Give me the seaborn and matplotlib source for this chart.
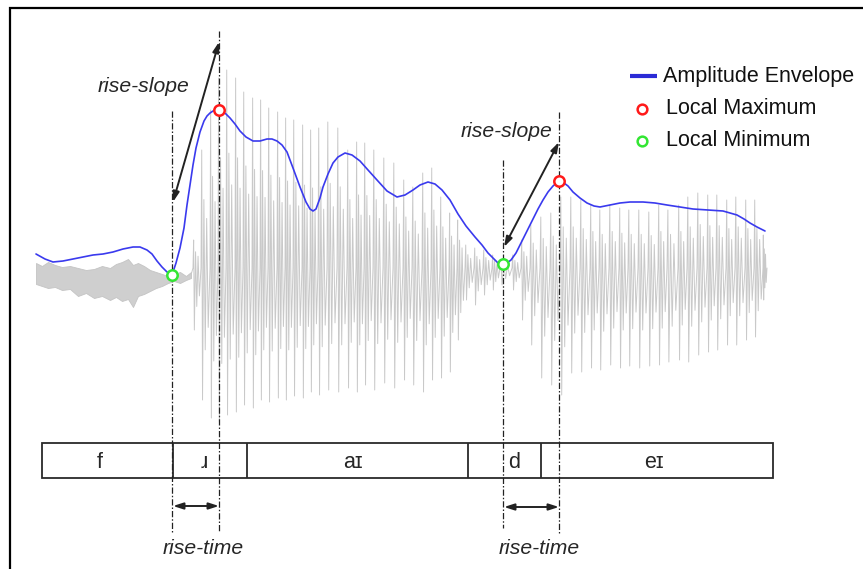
import matplotlib
matplotlib.use("Agg")
import matplotlib.pyplot as plt
import seaborn as sns
import pandas as pd
from matplotlib.patches import Rectangle

# ---------------------------------------------------------------------------
# Data (horizontal = time in px-like units, vertical = amplitude, downwards)
# ---------------------------------------------------------------------------
# fricative /f/ noise band: upper and lower edges
noise_x = [36, 42, 48, 55, 62, 70, 78, 86, 94, 102, 110, 116, 122, 128, 133,
           138, 144, 150, 156, 162, 168, 174, 180, 186, 191]
noise_top = [263, 266, 262, 265, 267, 266, 268, 270, 269, 266, 268, 264, 262,
             259, 265, 263, 266, 270, 272, 274, 276, 274, 272, 276, 272]
noise_bot = [284, 286, 288, 287, 290, 289, 296, 293, 298, 296, 300, 297, 301,
             299, 307, 296, 294, 291, 288, 286, 283, 281, 283, 280, 278]

# voiced part: glottal pulse onsets with their positive / negative peaks
pulse_x = [193, 201, 210, 218, 226, 235, 243, 252, 260, 268, 277, 285, 293,
           302, 310, 318, 327, 337, 347, 356, 364, 373, 383, 393, 403, 412,
           422, 431, 440, 449, 457, 465, 474, 483, 492, 500,
           512, 521, 530, 540, 550, 560, 570, 580, 590, 599, 609, 619, 628,
           638, 648, 658, 667, 678, 687, 697, 707, 716, 726, 735, 745, 754, 763]
pulse_top = [240, 150, 110, 78, 70, 78, 92, 98, 100, 108, 112, 118, 120,
             125, 130, 128, 122, 128, 150, 142, 143, 150, 158, 163, 180, 187,
             173, 168, 197, 213, 220, 245, 248, 250, 255, 262,
             255, 240, 225, 217, 213, 197, 197, 200, 205, 210, 205, 208, 210,
             210, 212, 205, 210, 205, 197, 193, 195, 195, 200, 197, 200, 200, 235]
pulse_bot = [330, 400, 418, 422, 415, 412, 405, 408, 400, 402, 398, 400, 396,
             398, 392, 395, 390, 392, 388, 392, 385, 390, 383, 388, 380, 385,
             392, 380, 378, 372, 340, 300, 305, 295, 290, 285,
             290, 320, 345, 378, 385, 395, 373, 372, 368, 370, 365, 368, 366,
             368, 366, 365, 362, 360, 362, 355, 352, 350, 345, 345, 340, 337, 300]

# amplitude envelope
env_x = [36, 45, 53, 63, 73, 83, 93, 103, 113, 123, 133, 140, 147, 152, 157,
         162, 167, 172, 176, 180, 184, 187, 190, 193, 196, 200, 204, 207, 210,
         213, 216, 219, 222, 226, 230, 235, 240, 246, 253, 260, 267, 272, 277,
         282, 287, 293, 300, 306, 310, 313, 316, 320, 323, 328, 333, 338, 345,
         352, 360, 368, 377, 387, 397, 405, 413, 420, 428, 435, 442, 450, 458,
         466, 475, 482, 488, 494, 498, 503, 507, 511, 516, 521, 527, 533, 538,
         543, 548, 553, 559, 564, 568, 573, 580, 587, 594, 600, 610, 620, 630,
         643, 655, 667, 680, 693, 708, 723, 730, 737, 744, 750, 757, 765]
env_y = [254, 259, 262, 261, 259, 257, 255, 254, 252, 249, 247, 247, 250, 254,
         261, 267, 272, 275, 263, 248, 228, 205, 185, 165, 148, 132, 121, 116,
         113, 111, 110, 110, 111, 114, 118, 124, 131, 137, 141, 141, 139, 139,
         141, 145, 152, 168, 187, 202, 209, 211, 209, 198, 187, 174, 163, 157,
         153, 155, 161, 170, 180, 191, 197, 195, 190, 185, 182, 184, 190, 200,
         214, 226, 237, 245, 253, 259, 263, 264, 263, 260, 253, 243, 231, 219,
         209, 200, 192, 186, 181, 183, 186, 192, 198, 203, 206, 207, 205, 203,
         202, 202, 203, 205, 207, 209, 210, 211, 213, 215, 219, 223, 227, 231]

# rise events: envelope minimum -> following maximum
rise_onset = [172, 503]
rise_peak = [219, 559]

# phone segmentation
seg_bounds = [42, 173, 247, 468, 541, 773]
seg_labels = ["f", "ɹ", "aɪ", "d", "eɪ"]
seg_label_x = [100, 204, 353, 514, 654]

legend_labels = ["Amplitude Envelope", "Local Maximum", "Local Minimum"]

# ---------------------------------------------------------------------------
sns.set_style("white")
plt.rcParams["font.family"] = ["Liberation Sans", "DejaVu Sans"]

W, H = 863, 569
fig = plt.figure(figsize=(W / 100, H / 100), dpi=100)
ax = fig.add_axes([0, 0, 1, 1])
ax.set_xlim(0, W)
ax.set_ylim(H, 0)
ax.axis("off")

GREY = "#c9c9c9"
BLUE = "#3a3aee"
BASE = 268

# fricative noise
ax.fill_between(noise_x, noise_top, noise_bot, color="#cfcfcf", lw=0.6,
                edgecolor="#c4c4c4", zorder=1)

# voiced waveform: each glottal pulse drawn with a damped-ringing shape
shape = [(0.00, 0.0), (0.08, 1.0), (0.17, -1.0), (0.32, 0.58), (0.47, -0.62),
         (0.63, 0.42), (0.80, -0.45), (1.00, 0.0)]
wx, wy = [noise_x[-1]], [noise_top[-1] + 3]
for i, x0 in enumerate(pulse_x):
    period = (pulse_x[i + 1] - x0) if i + 1 < len(pulse_x) else 4
    a_up = BASE - pulse_top[i]
    a_dn = pulse_bot[i] - BASE
    for u, v in shape:
        wx.append(x0 + u * period)
        wy.append(BASE - v * a_up if v >= 0 else BASE - v * a_dn)
wave = pd.DataFrame({"t": wx, "a": wy})
sns.lineplot(data=wave, x="t", y="a", ax=ax, color=GREY, lw=0.7,
             sort=False, estimator=None, zorder=1)

# amplitude envelope
env = pd.DataFrame({"t": env_x, "a": env_y})
sns.lineplot(data=env, x="t", y="a", ax=ax, color=BLUE, lw=1.2,
             sort=False, estimator=None, zorder=3)

env_lookup = dict(zip(env_x, env_y))
min_y = [env_lookup[x] for x in rise_onset]
max_y = [env_lookup[x] for x in rise_peak]
ax.plot(rise_peak, max_y, ls="none", marker="o", ms=7.5, mfc="white",
        mec="#ff1a1a", mew=1.8, zorder=5)
ax.plot(rise_onset, min_y, ls="none", marker="o", ms=7.5, mfc="white",
        mec="#33e633", mew=1.8, zorder=5)

# vertical dash-dot guides
dashdot = (0, (5, 1.6, 1.2, 1.6))
ax.vlines(rise_onset, [111, 160], [533, 528], colors="#222222", lw=0.9,
          linestyles=[dashdot], zorder=4)
ax.vlines(rise_peak, [31, 112], [532, 533], colors="#222222", lw=0.9,
          linestyles=[dashdot], zorder=4)

# rise-slope arrows
arrow = dict(arrowstyle="<|-|>,head_length=0.5,head_width=0.16",
             color="#222222", lw=1.4, shrinkA=0, shrinkB=0, mutation_scale=12)
slope_ends = [(202, 42), (247, 142)]
for x0, x1, (y0, y1) in zip(rise_onset, rise_peak, slope_ends):
    ax.annotate("", xy=(x1, y1), xytext=(x0 + 1, y0), arrowprops=arrow,
                zorder=6)
ax.text(144, 86, "rise-slope", style="italic", fontsize=15.2,
        ha="center", va="center")
ax.text(507, 131, "rise-slope", style="italic", fontsize=15.2,
        ha="center", va="center")

# rise-time arrows
for x0, x1, y in zip(rise_onset, rise_peak, [506, 507]):
    ax.annotate("", xy=(x1, y), xytext=(x0 + 1, y), arrowprops=arrow, zorder=6)
    ax.text((x0 + x1) / 2 + 8, 549, "rise-time", style="italic",
            fontsize=15.2, ha="center", va="center")

# segmentation tier
top, bot = 443, 478
ax.add_patch(Rectangle((seg_bounds[0], top), seg_bounds[-1] - seg_bounds[0],
                       bot - top, fill=False, ec="#2a2a2a", lw=1.3, zorder=3))
ax.vlines(seg_bounds[1:-1], top, bot, colors="#2a2a2a", lw=1.3, zorder=3)
for lab, x in zip(seg_labels, seg_label_x):
    ax.text(x, 462, lab, fontsize=15.5, ha="center", va="center", zorder=5)

# legend
ax.plot([630, 657], [76, 76], color="#2b2bd6", lw=3, solid_capstyle="butt")
ax.plot([642], [109], ls="none", marker="o", ms=7, mfc="white",
        mec="#ff1a1a", mew=1.8)
ax.plot([642], [141], ls="none", marker="o", ms=7, mfc="white",
        mec="#33e633", mew=1.8)
for lab, (x, y) in zip(legend_labels, [(663, 76), (666, 108), (666, 140)]):
    ax.text(x, y, lab, fontsize=15.5, ha="left", va="center", color="#111111")

# frame
fig.patches.append(Rectangle((10 / W, -0.02), 1.05, (H - 8) / H + 0.02,
                             transform=fig.transFigure, fill=False,
                             ec="black", lw=1.6))

fig.savefig("out.png", dpi=100, facecolor="white")
